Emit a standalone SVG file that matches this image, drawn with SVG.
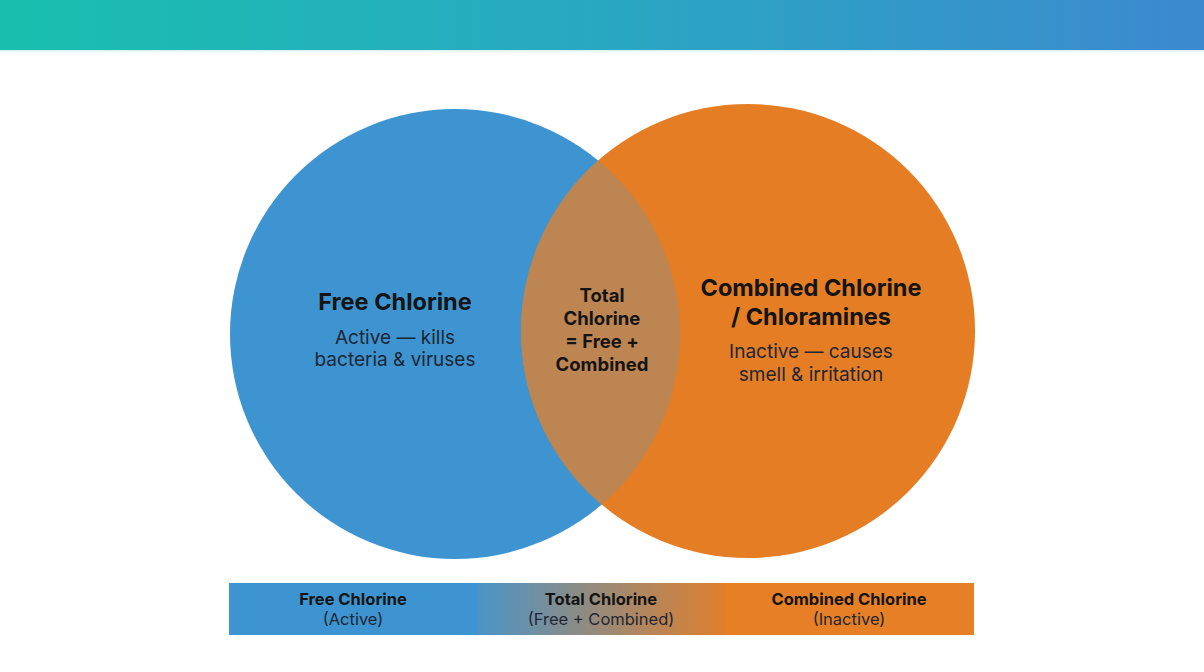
<svg xmlns="http://www.w3.org/2000/svg" width="1204" height="672" viewBox="0 0 1204 672">
<defs>
<linearGradient id="topbar" x1="0" y1="0" x2="1" y2="0">
<stop offset="0" stop-color="#19bfae"/>
<stop offset="0.5" stop-color="#29a8c2"/>
<stop offset="1" stop-color="#3c89cf"/>
</linearGradient>
<linearGradient id="mid" x1="0" y1="0" x2="1" y2="0">
<stop offset="0" stop-color="#4a94c8"/>
<stop offset="0.5" stop-color="#9a8a78"/>
<stop offset="1" stop-color="#e07f2c"/>
</linearGradient>
<linearGradient id="shadow" x1="0" y1="0" x2="0" y2="1">
<stop offset="0" stop-color="#b8e6ea" stop-opacity="0.6"/>
<stop offset="1" stop-color="#ffffff" stop-opacity="0"/>
</linearGradient>
<clipPath id="leftClip"><circle cx="455" cy="334" r="225"/></clipPath>
</defs>
<style>
.t{font-family:Inter,"Liberation Sans",sans-serif;fill:#141414;text-anchor:middle}
.h{font-weight:700}
.s{fill:#1d2735}
</style>
<rect width="1204" height="672" fill="#ffffff"/>
<rect x="0" y="0" width="1204" height="50" fill="url(#topbar)"/>
<rect x="0" y="50" width="1204" height="5" fill="url(#shadow)"/>
<g id="free">
<circle cx="455" cy="334" r="225" fill="#3e94d0"/>
</g>
<g id="combined">
<circle cx="748" cy="331" r="227" fill="#e57d24"/>
</g>
<g id="total">
<circle cx="748" cy="331" r="227" fill="#bd8552" clip-path="url(#leftClip)"/>
</g>
<g id="labels">
<text class="t h" x="395" y="310" font-size="23.5">Free Chlorine</text>
<text class="t s" x="395" y="344" font-size="19">Active — kills</text>
<text class="t s" x="395" y="366" font-size="19">bacteria &amp; viruses</text>
<text class="t h" x="602" y="302" font-size="18.5">Total</text>
<text class="t h" x="602" y="325" font-size="18.5">Chlorine</text>
<text class="t h" x="602" y="348" font-size="18.5">= Free +</text>
<text class="t h" x="602" y="371" font-size="18.5">Combined</text>
<text class="t h" x="811" y="296" font-size="23.5">Combined Chlorine</text>
<text class="t h" x="811" y="325" font-size="23.5">/ Chloramines</text>
<text class="t s" x="811" y="358" font-size="19">Inactive — causes</text>
<text class="t s" x="811" y="381" font-size="19">smell &amp; irritation</text>
</g>
<g id="legend">
<rect x="229" y="583" width="249" height="52" fill="#3e94d0"/>
<rect x="477" y="583" width="249" height="52" fill="url(#mid)"/>
<rect x="725" y="583" width="249" height="52" fill="#e67f26"/>
<text class="t h" x="353" y="605" font-size="16.5">Free Chlorine</text>
<text class="t s" x="353" y="625" font-size="16.5">(Active)</text>
<text class="t h" x="601" y="605" font-size="16.5">Total Chlorine</text>
<text class="t s" x="601" y="625" font-size="16.5">(Free + Combined)</text>
<text class="t h" x="849" y="605" font-size="16.5">Combined Chlorine</text>
<text class="t s" x="849" y="625" font-size="16.5">(Inactive)</text>
</g>
</svg>
